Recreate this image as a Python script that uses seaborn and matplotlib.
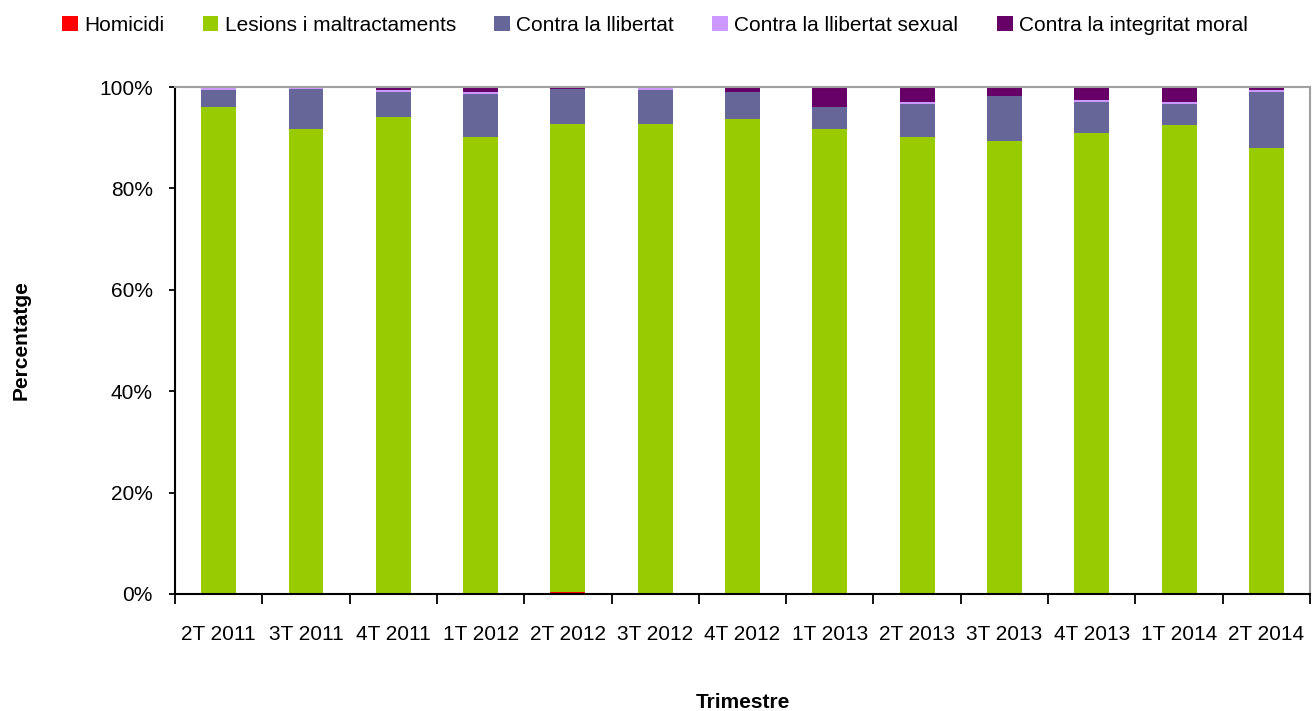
import numpy as np
import pandas as pd
import seaborn as sns
import matplotlib
matplotlib.use("Agg")
import matplotlib.pyplot as plt
from matplotlib.ticker import FuncFormatter, FixedLocator
from matplotlib.patches import Patch

# Data (percent of each quarter)
trimestres = ['2T 2011', '3T 2011', '4T 2011', '1T 2012', '2T 2012', '3T 2012', '4T 2012',
              '1T 2013', '2T 2013', '3T 2013', '4T 2013', '1T 2014', '2T 2014']
homicidi = [0, 0, 0, 0, 0.4, 0, 0, 0, 0, 0, 0, 0, 0]
lesions = [96.0, 91.7, 94.1, 90.1, 92.3, 92.7, 93.7, 91.7, 90.1, 89.3, 90.9, 92.5, 88.0]
llibertat = [3.4, 7.9, 4.9, 8.5, 6.9, 6.7, 5.3, 4.4, 6.5, 8.9, 6.1, 4.1, 11.0]
llib_sexual = [0.6, 0.4, 0.4, 0.4, 0, 0.6, 0, 0, 0.4, 0, 0.4, 0.4, 0.4]
integ_moral = [0, 0, 0.6, 1.0, 0.4, 0, 1.0, 3.9, 3.0, 1.8, 2.6, 3.0, 0.6]

series_names = ['Homicidi', 'Lesions i maltractaments', 'Contra la llibertat',
                'Contra la llibertat sexual', 'Contra la integritat moral']
colors = ['#FF0000', '#99CC00', '#666699', '#CC99FF', '#660066']

df = pd.DataFrame({'Trimestre': trimestres, series_names[0]: homicidi, series_names[1]: lesions,
                   series_names[2]: llibertat, series_names[3]: llib_sexual,
                   series_names[4]: integ_moral})
cum = df[series_names].cumsum(axis=1)

sns.set_style("white")
plt.rcParams['font.family'] = ['Liberation Sans', 'DejaVu Sans']
plt.rcParams['text.color'] = 'black'
plt.rcParams['xtick.color'] = 'black'
plt.rcParams['ytick.color'] = 'black'
plt.rcParams['axes.labelcolor'] = 'black'
fs = 15

fig = plt.figure(figsize=(13.15, 7.11), dpi=100)
ax = fig.add_axes([0.1331, 0.1646, 0.8631, 0.7130])

# stacked bars: draw cumulative totals from the top series down
for name, col in zip(series_names[::-1], colors[::-1]):
    sns.barplot(x=df['Trimestre'], y=cum[name], color=col, width=0.4, ax=ax,
                saturation=1, linewidth=0)

ax.set_xlim(-0.5, len(trimestres) - 0.5)
ax.set_ylim(0, 100)
ax.yaxis.set_major_locator(FixedLocator([0, 20, 40, 60, 80, 100]))
ax.yaxis.set_major_formatter(FuncFormatter(lambda v, p: f"{v:.0f}%"))
ax.set_xticks(np.arange(len(trimestres)))
ax.set_xticklabels(trimestres)
ax.set_xticks(np.arange(-0.5, len(trimestres)), minor=True)
ax.tick_params(axis='x', which='major', length=0, pad=22, labelsize=fs)
ax.tick_params(axis='x', which='minor', length=7, width=1.3, direction='out', color='black', bottom=True)
ax.tick_params(axis='y', which='major', length=4, width=1.3, direction='out', pad=12,
               labelsize=fs, color='black', left=True)

for s in ['left', 'bottom']:
    ax.spines[s].set_color('black')
    ax.spines[s].set_linewidth(1.5)
for s in ['top', 'right']:
    ax.spines[s].set_color('#A0A0A0')
    ax.spines[s].set_linewidth(1.5)

ax.set_xlabel('Trimestre', fontsize=fs, fontweight='bold')
ax.set_ylabel('Percentatge', fontsize=fs, fontweight='bold')
ax.xaxis.set_label_coords(0.5, -0.196)
ax.yaxis.set_label_coords(-0.127, 0.5)

handles = [Patch(facecolor=c, edgecolor='none') for c in colors]
fig.legend(handles, series_names, loc='upper center', bbox_to_anchor=(0.498, 1.004), ncol=5,
           frameon=False, fontsize=fs, handlelength=0.75, handleheight=0.75,
           handletextpad=0.3, columnspacing=1.85)

fig.savefig('out.png', dpi=100)
